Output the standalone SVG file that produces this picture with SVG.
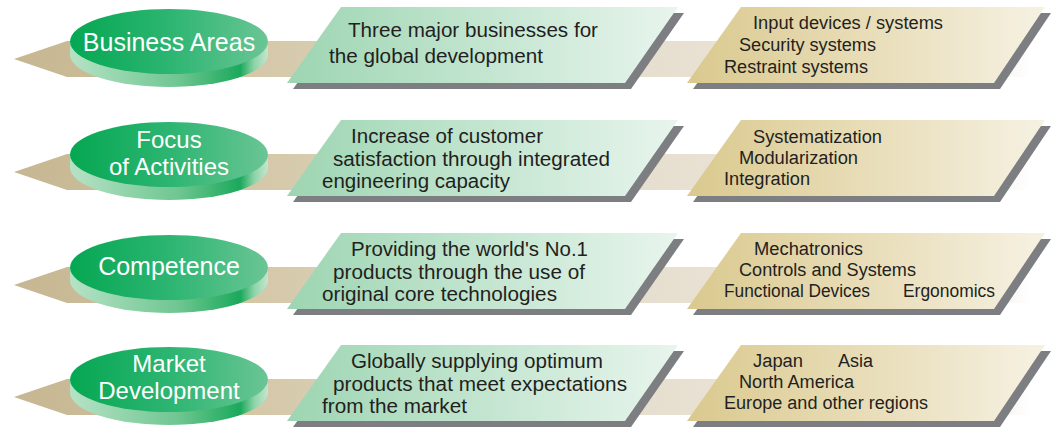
<svg xmlns="http://www.w3.org/2000/svg" width="1056" height="427" viewBox="0 0 1056 427">
  <defs>
    <linearGradient id="gBand" gradientUnits="userSpaceOnUse" x1="14" y1="0" x2="1030" y2="0">
      <stop offset="0" stop-color="#c6b691"/>
      <stop offset="0.28" stop-color="#d7cbad"/>
      <stop offset="0.65" stop-color="#e7e0d1"/>
      <stop offset="0.96" stop-color="#f3f0e9"/>
      <stop offset="1" stop-color="#ffffff"/>
    </linearGradient>
    <linearGradient id="gTop" x1="0" y1="0" x2="1" y2="0">
      <stop offset="0" stop-color="#05a752"/>
      <stop offset="0.5" stop-color="#2cb571"/>
      <stop offset="1" stop-color="#6ac595"/>
    </linearGradient>
    <linearGradient id="gSide" x1="0" y1="0" x2="1" y2="0">
      <stop offset="0" stop-color="#b6e2c6"/>
      <stop offset="0.55" stop-color="#6fc690"/>
      <stop offset="0.86" stop-color="#1aa95c"/>
      <stop offset="0.93" stop-color="#8ed3a7"/>
      <stop offset="1" stop-color="#c3e7cf"/>
    </linearGradient>
    <linearGradient id="gMid" x1="0" y1="0" x2="1" y2="0">
      <stop offset="0" stop-color="#9dd5b2"/>
      <stop offset="1" stop-color="#e8f5ed"/>
    </linearGradient>
    <linearGradient id="gRight" x1="0" y1="0" x2="1" y2="0">
      <stop offset="0" stop-color="#dac98e"/>
      <stop offset="1" stop-color="#f6f1e2"/>
    </linearGradient>
  </defs>
  <style>
    .band { fill: url(#gBand); }
    .side { fill: url(#gSide); }
    .top { fill: url(#gTop); }
    .shadow { fill: #7d7e81; }
    .mid { fill: url(#gMid); }
    .right { fill: url(#gRight); }
    .lbl { font-family: "Liberation Sans", Arial, sans-serif; font-size: 25px; fill: #ffffff; text-anchor: middle; }
    .lbl2 { font-family: "Liberation Sans", Arial, sans-serif; font-size: 24px; fill: #ffffff; text-anchor: middle; }
    .mt { font-family: "Liberation Sans", Arial, sans-serif; font-size: 20px; fill: #231f20; }
    .rt { font-family: "Liberation Sans", Arial, sans-serif; font-size: 18px; fill: #231f20; }
  </style>

  <g id="connectors">
    <polygon class="band" points="14,59 67,41 1030,41 1030,77 67,77"/>
    <polygon class="band" transform="translate(0,113)" points="14,59 67,41 1030,41 1030,77 67,77"/>
    <polygon class="band" transform="translate(0,226)" points="14,59 67,41 1030,41 1030,77 67,77"/>
    <polygon class="band" transform="translate(0,338)" points="14,59 67,41 1030,41 1030,77 67,77"/>
  </g>

  <!-- Row 1 -->
  <g id="business-areas">
    <path class="side" d="M70,41.5 L70,54.5 A99,32.5 0 0 0 268,54.5 L268,41.5 Z"/>
    <ellipse class="top" cx="169" cy="41.5" rx="99" ry="32.5"/>
    <text class="lbl" x="169" y="50.5">Business Areas</text>
  </g>
  <g id="business-areas-desc">
    <polygon class="shadow" transform="translate(6,6)" points="341,7 678,7 625,83 287,83"/>
    <polygon class="mid" points="341,7 678,7 625,83 287,83"/>
    <text class="mt" x="348" y="37" textLength="250" lengthAdjust="spacingAndGlyphs">Three major businesses for</text>
    <text class="mt" x="329" y="63" textLength="214" lengthAdjust="spacingAndGlyphs">the global development</text>
  </g>
  <g id="business-areas-items">
    <polygon class="shadow" transform="translate(6,6)" points="741,7 1045,7 994,83 687,83"/>
    <polygon class="right" points="741,7 1045,7 994,83 687,83"/>
    <text class="rt" x="753" y="29" textLength="190" lengthAdjust="spacingAndGlyphs">Input devices / systems</text>
    <text class="rt" x="739" y="51" textLength="137" lengthAdjust="spacingAndGlyphs">Security systems</text>
    <text class="rt" x="724" y="72.5" textLength="144" lengthAdjust="spacingAndGlyphs">Restraint systems</text>
  </g>

  <!-- Row 2 -->
  <g id="focus-of-activities" transform="translate(0,113)">
    <path class="side" d="M70,41.5 L70,54.5 A99,32.5 0 0 0 268,54.5 L268,41.5 Z"/>
    <ellipse class="top" cx="169" cy="41.5" rx="99" ry="32.5"/>
    <text class="lbl2"><tspan x="169" y="34.5">Focus</tspan><tspan x="169" y="61.5">of Activities</tspan></text>
  </g>
  <g id="focus-of-activities-desc" transform="translate(0,113)">
    <polygon class="shadow" transform="translate(6,6)" points="341,7 678,7 625,83 287,83"/>
    <polygon class="mid" points="341,7 678,7 625,83 287,83"/>
    <text class="mt" x="351" y="30" textLength="192" lengthAdjust="spacingAndGlyphs">Increase of customer</text>
    <text class="mt" x="333" y="52.5" textLength="277" lengthAdjust="spacingAndGlyphs">satisfaction through integrated</text>
    <text class="mt" x="322" y="75" textLength="188" lengthAdjust="spacingAndGlyphs">engineering capacity</text>
  </g>
  <g id="focus-of-activities-items" transform="translate(0,113)">
    <polygon class="shadow" transform="translate(6,6)" points="741,7 1045,7 994,83 687,83"/>
    <polygon class="right" points="741,7 1045,7 994,83 687,83"/>
    <text class="rt" x="753" y="30" textLength="129" lengthAdjust="spacingAndGlyphs">Systematization</text>
    <text class="rt" x="739" y="50.5" textLength="119" lengthAdjust="spacingAndGlyphs">Modularization</text>
    <text class="rt" x="724" y="71.5" textLength="86" lengthAdjust="spacingAndGlyphs">Integration</text>
  </g>

  <!-- Row 3 -->
  <g id="competence" transform="translate(0,226)">
    <path class="side" d="M70,41.5 L70,54.5 A99,32.5 0 0 0 268,54.5 L268,41.5 Z"/>
    <ellipse class="top" cx="169" cy="41.5" rx="99" ry="32.5"/>
    <text class="lbl" x="169" y="48.5">Competence</text>
  </g>
  <g id="competence-desc" transform="translate(0,226)">
    <polygon class="shadow" transform="translate(6,6)" points="341,7 678,7 625,83 287,83"/>
    <polygon class="mid" points="341,7 678,7 625,83 287,83"/>
    <text class="mt" x="351" y="30" textLength="237" lengthAdjust="spacingAndGlyphs">Providing the world's No.1</text>
    <text class="mt" x="333" y="52.5" textLength="252" lengthAdjust="spacingAndGlyphs">products through the use of</text>
    <text class="mt" x="322" y="75" textLength="235" lengthAdjust="spacingAndGlyphs">original core technologies</text>
  </g>
  <g id="competence-items" transform="translate(0,226)">
    <polygon class="shadow" transform="translate(6,6)" points="741,7 1045,7 994,83 687,83"/>
    <polygon class="right" points="741,7 1045,7 994,83 687,83"/>
    <text class="rt" x="754" y="28.5" textLength="109" lengthAdjust="spacingAndGlyphs">Mechatronics</text>
    <text class="rt" x="739" y="50" textLength="177" lengthAdjust="spacingAndGlyphs">Controls and Systems</text>
    <text class="rt" x="724" y="71" textLength="146" lengthAdjust="spacingAndGlyphs">Functional Devices</text>
    <text class="rt" x="903" y="71" textLength="92" lengthAdjust="spacingAndGlyphs">Ergonomics</text>
  </g>

  <!-- Row 4 -->
  <g id="market-development" transform="translate(0,338)">
    <path class="side" d="M70,41.5 L70,54.5 A99,32.5 0 0 0 268,54.5 L268,41.5 Z"/>
    <ellipse class="top" cx="169" cy="41.5" rx="99" ry="32.5"/>
    <text class="lbl2"><tspan x="169" y="33.5">Market</tspan><tspan x="169" y="60.5">Development</tspan></text>
  </g>
  <g id="market-development-desc" transform="translate(0,338)">
    <polygon class="shadow" transform="translate(6,6)" points="341,7 678,7 625,83 287,83"/>
    <polygon class="mid" points="341,7 678,7 625,83 287,83"/>
    <text class="mt" x="351" y="30" textLength="252" lengthAdjust="spacingAndGlyphs">Globally supplying optimum</text>
    <text class="mt" x="333" y="53" textLength="294" lengthAdjust="spacingAndGlyphs">products that meet expectations</text>
    <text class="mt" x="322" y="75" textLength="145" lengthAdjust="spacingAndGlyphs">from the market</text>
  </g>
  <g id="market-development-items" transform="translate(0,338)">
    <polygon class="shadow" transform="translate(6,6)" points="741,7 1045,7 994,83 687,83"/>
    <polygon class="right" points="741,7 1045,7 994,83 687,83"/>
    <text class="rt" x="753" y="29" textLength="50" lengthAdjust="spacingAndGlyphs">Japan</text>
    <text class="rt" x="838" y="29" textLength="35" lengthAdjust="spacingAndGlyphs">Asia</text>
    <text class="rt" x="739" y="50" textLength="115" lengthAdjust="spacingAndGlyphs">North America</text>
    <text class="rt" x="724" y="70.5" textLength="204" lengthAdjust="spacingAndGlyphs">Europe and other regions</text>
  </g>
</svg>
